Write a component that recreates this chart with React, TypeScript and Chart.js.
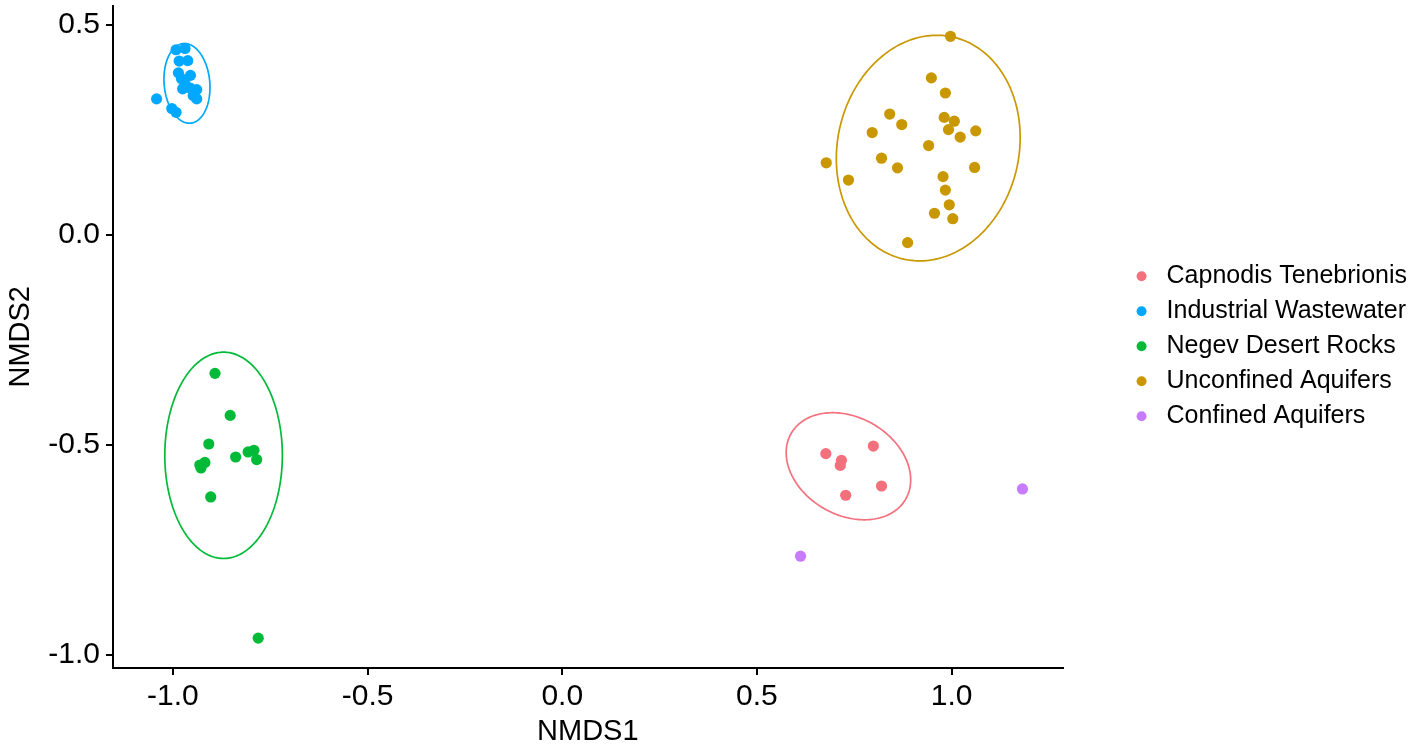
import React, { useEffect, useRef } from 'react';
import { Chart, registerables } from 'chart.js';

Chart.register(...registerables);

const GROUPS = [
  'Capnodis Tenebrionis',
  'Industrial Wastewater',
  'Negev Desert Rocks',
  'Unconfined Aquifers',
  'Confined Aquifers',
];
const COLORS = ['#F4707C', '#00A9FF', '#00BA38', '#C99800', '#C77CFF'];

const CT_X = [0.677, 0.717, 0.714, 0.799, 0.82, 0.728];
const CT_Y = [-0.521, -0.537, -0.549, -0.503, -0.598, -0.62];

const IW_X = [-0.992, -0.969, -0.984, -0.962, -0.986, -0.955, -0.978, -0.969, -0.975, -0.956, -0.939, -0.948, -0.939, -1.042, -1.003, -0.992];
const IW_Y = [0.44, 0.443, 0.413, 0.414, 0.385, 0.379, 0.371, 0.359, 0.347, 0.349, 0.345, 0.331, 0.323, 0.323, 0.3, 0.291];

const NDR_X = [-0.892, -0.853, -0.908, -0.839, -0.807, -0.792, -0.785, -0.931, -0.918, -0.928, -0.903, -0.781];
const NDR_Y = [-0.33, -0.43, -0.498, -0.529, -0.517, -0.513, -0.535, -0.548, -0.542, -0.555, -0.624, -0.96];

const UA_X = [0.997, 0.948, 0.984, 0.841, 0.872, 0.796, 0.981, 1.007, 0.992, 1.022, 1.062, 0.941, 0.82, 0.861, 1.059, 0.678, 0.735, 0.978, 0.984, 0.994, 0.956, 1.003, 0.887];
const UA_Y = [0.472, 0.373, 0.337, 0.287, 0.262, 0.243, 0.279, 0.27, 0.25, 0.232, 0.247, 0.212, 0.182, 0.159, 0.16, 0.171, 0.13, 0.138, 0.106, 0.071, 0.051, 0.038, -0.019];

const CA_X = [0.612, 1.182];
const CA_Y = [-0.765, -0.605];

const GROUP_X = [CT_X, IW_X, NDR_X, UA_X, CA_X];
const GROUP_Y = [CT_Y, IW_Y, NDR_Y, UA_Y, CA_Y];

// confidence ellipses: group index, centre, semi-axes, rotation (degrees)
const ELL_GROUP = [0, 1, 2, 3];
const ELL_CX = [0.735, -0.964, -0.87, 0.94];
const ELL_CY = [-0.551, 0.36, -0.525, 0.206];
const ELL_A = [0.167, 0.0952, 0.2455, 0.272];
const ELL_B = [0.118, 0.0586, 0.151, 0.232];
const ELL_ANGLE = [-24, 96, 90, 72];

const X_TICKS = [-1, -0.5, 0, 0.5, 1];
const Y_TICKS = [-1, -0.5, 0, 0.5];
const X_MIN = -1.154;
const X_MAX = 1.285;
const Y_MIN = -1.031;
const Y_MAX = 0.545;

const FONT = '"Liberation Sans", Arial, sans-serif';

function ellipsePath(i: number) {
  const pts: { x: number; y: number }[] = [];
  const th = (ELL_ANGLE[i] * Math.PI) / 180;
  const n = 120;
  for (let k = 0; k <= n; k++) {
    const t = (k / n) * Math.PI * 2;
    const ca = ELL_A[i] * Math.cos(t);
    const sb = ELL_B[i] * Math.sin(t);
    pts.push({
      x: ELL_CX[i] + ca * Math.cos(th) - sb * Math.sin(th),
      y: ELL_CY[i] + ca * Math.sin(th) + sb * Math.cos(th),
    });
  }
  return pts;
}

export default function App() {
  const ref = useRef<HTMLCanvasElement | null>(null);

  useEffect(() => {
    if (!ref.current) return;
    const pointSets: any[] = GROUPS.map((g, gi) => ({
      type: 'scatter',
      label: g,
      data: GROUP_X[gi].map((x, k) => ({ x, y: GROUP_Y[gi][k] })),
      backgroundColor: COLORS[gi],
      borderColor: COLORS[gi],
      borderWidth: 0,
      pointBorderWidth: 0,
      pointRadius: 5.6,
      pointHoverRadius: 5.6,
      pointStyle: 'circle',
      showLine: false,
    }));
    const ellSets: any[] = ELL_GROUP.map((gi, i) => ({
      type: 'scatter',
      label: GROUPS[gi] + ' ellipse',
      data: ellipsePath(i),
      showLine: true,
      fill: false,
      borderColor: COLORS[gi],
      backgroundColor: COLORS[gi],
      borderWidth: 1.7,
      pointRadius: 0,
      pointHoverRadius: 0,
      tension: 0.01,
    }));

    const chart = new Chart(ref.current, {
      type: 'scatter',
      data: { datasets: [...pointSets, ...ellSets] },
      options: {
        animation: false,
        responsive: false,
        events: [],
        layout: { padding: { top: 5, left: 0, right: 0, bottom: 0 } },
        plugins: {
          tooltip: { enabled: false },
          legend: {
            position: 'right',
            fullSize: false,
            align: 'center',
            maxWidth: 500,
            title: { display: true, text: '', font: { size: 10 }, padding: { top: 7, bottom: 0 } },
            labels: {
              usePointStyle: true,
              pointStyle: 'circle',
              boxWidth: 25,
              boxHeight: 7,
              padding: 10,
              color: '#000',
              font: { family: FONT, size: 25 },
              filter: (item: any) => item.datasetIndex < GROUPS.length,
            },
          },
        },
        scales: {
          x: {
            type: 'linear',
            position: 'bottom',
            min: X_MIN,
            max: X_MAX,
            afterBuildTicks: (s: any) => {
              s.ticks = X_TICKS.map((v) => ({ value: v }));
            },
            afterFit: (s: any) => {
              s.height = 84;
              s.paddingLeft = 0;
              s.paddingRight = 0;
            },
            grid: {
              drawOnChartArea: false,
              drawTicks: true,
              tickLength: 7,
              tickColor: '#000',
              tickWidth: 2,
              color: '#000',
              lineWidth: 2,
            },
            border: { display: true, color: '#000', width: 2 },
            ticks: {
              color: '#000',
              font: { family: FONT, size: 30 },
              padding: 4,
              maxRotation: 0,
              autoSkip: false,
              callback: (v: any) => Number(v).toFixed(1),
            },
            title: {
              display: true,
              text: 'NMDS1',
              color: '#000',
              font: { family: FONT, size: 29 },
              padding: { top: 0, bottom: 3 },
            },
          },
          y: {
            type: 'linear',
            position: 'left',
            min: Y_MIN,
            max: Y_MAX,
            afterBuildTicks: (s: any) => {
              s.ticks = Y_TICKS.map((v) => ({ value: v }));
            },
            afterFit: (s: any) => {
              s.width = 113;
              s.paddingTop = 0;
              s.paddingBottom = 0;
            },
            grid: {
              drawOnChartArea: false,
              drawTicks: true,
              tickLength: 7,
              tickColor: '#000',
              tickWidth: 2,
              color: '#000',
              lineWidth: 2,
            },
            border: { display: true, color: '#000', width: 2 },
            ticks: {
              color: '#000',
              font: { family: FONT, size: 30 },
              padding: 6,
              autoSkip: false,
              callback: (v: any) => Number(v).toFixed(1),
            },
            title: {
              display: true,
              text: 'NMDS2',
              color: '#000',
              font: { family: FONT, size: 29 },
              padding: { top: 4, bottom: 0 },
            },
          },
          y2: {
            type: 'linear',
            position: 'right',
            display: true,
            grid: { display: false },
            border: { display: false },
            ticks: { display: false },
            afterFit: (s: any) => {
              s.width = 56.5;
              s.paddingTop = 0;
              s.paddingBottom = 0;
            },
          },
        },
      } as any,
    });
    return () => chart.destroy();
  }, []);

  return (
    <div style={{ position: 'fixed', left: 0, top: 0, width: 1417, height: 752, background: '#fff' }}>
      <canvas ref={ref} width={1417} height={752} style={{ width: 1417, height: 752, display: 'block' }} />
    </div>
  );
}
